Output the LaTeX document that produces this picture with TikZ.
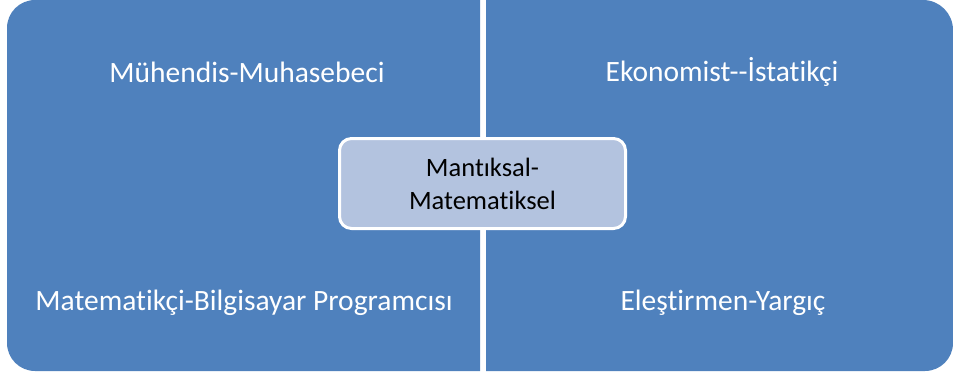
\documentclass[tikz,border=0pt]{standalone}
\usepackage{fontspec}
\setmainfont{Carlito}[Ligatures=NoCommon]
\definecolor{quadblue}{HTML}{4F81BD}
\definecolor{centerfill}{HTML}{B3C3DF}
\tikzset{
  quad/.style={fill=quadblue, draw=none},
  quadtext/.style={text=white, font=\fontsize{29.5}{34}\selectfont, anchor=center, inner sep=0pt},
  centerbox/.style={draw=white, line width=3pt, fill=centerfill, rounded corners=12pt,
    minimum width=286pt, minimum height=90pt, align=center, text=black,
    font=\fontsize{26.5}{33}\selectfont, inner sep=0pt}
}
\begin{document}
\begin{tikzpicture}[x=1pt,y=1pt]
\useasboundingbox (0,0) rectangle (953,376);
% top-left
\path[quad] (7,188) -- (7,348) arc[start angle=180,end angle=90,radius=28] -- (480,376) -- (480,188) -- cycle;
% top-right
\path[quad] (486,188) -- (486,376) -- (923,376) arc[start angle=90,end angle=0,radius=30] -- (953,188) -- cycle;
% bottom-left
\path[quad] (480,193) -- (7,193) -- (7,33) arc[start angle=180,end angle=270,radius=28] -- (480,5) -- cycle;
% bottom-right
\path[quad] (486,193) -- (486,5) -- (925,5) arc[start angle=270,end angle=360,radius=28] -- (953,193) -- cycle;
\node[quadtext] (tl) at (247,304) {Mühendis-Muhasebeci};
\node[quadtext] (tr) at (722,304) {Ekonomist-\kern0pt-İstatikçi};
\node[quadtext] (bl) at (244,73) {Matematikçi-Bilgisayar Programcısı};
\node[quadtext] (br) at (723,73) {Eleştirmen-Yargıç};
\node[centerbox] (c) at (482.5,192.5) {Mantıksal-\\Matematiksel};
\end{tikzpicture}
\end{document}
